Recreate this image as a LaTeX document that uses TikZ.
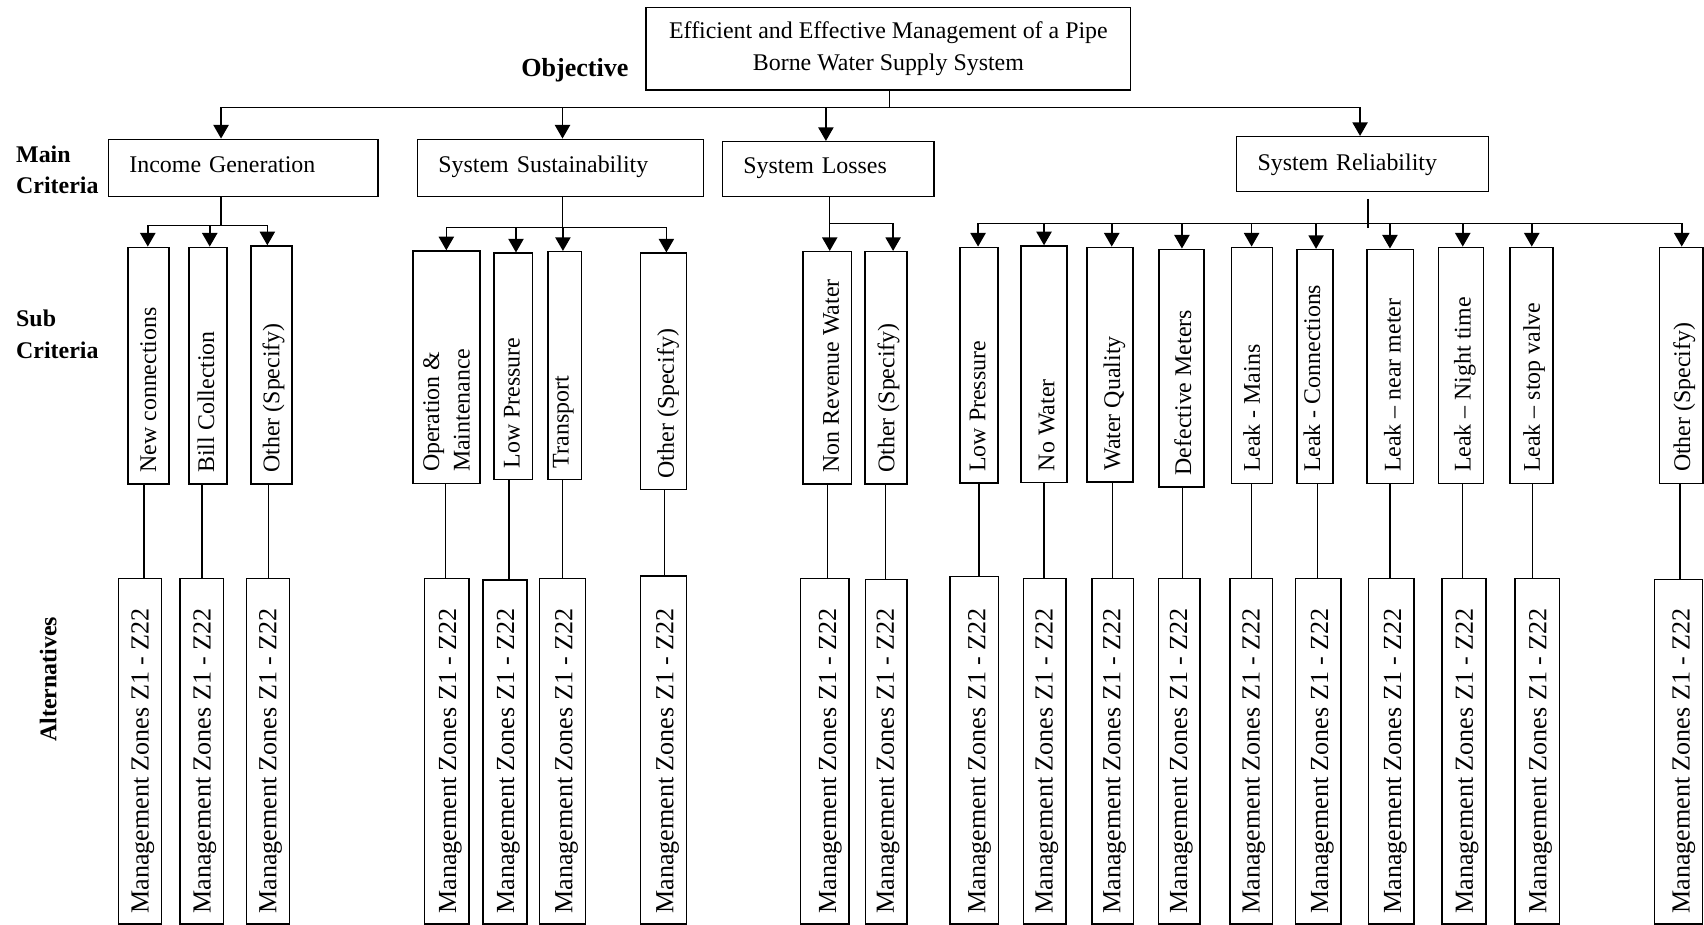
\documentclass[tikz,border=0pt]{standalone}
\usepackage{fontspec}
\setmainfont{Liberation Serif}
\usetikzlibrary{arrows.meta}
\newcommand\fsA{\fontsize{22}{28.6}\selectfont}
\newcommand\fsB{\fontsize{24}{30}\selectfont}
\newcommand\fsOM{\fontsize{22}{28}\selectfont}
\tikzset{
  box/.style={draw, line width=1.4pt, inner sep=0pt, outer sep=0.7pt},
  conn/.style={line width=1.4pt},
  hline/.style={line width=1.4pt, line cap=rect},
  arr/.style={line width=1.4pt, -{Triangle[width=14pt,length=12.5pt]}},
  crit/.style={box, font=\fsA, inner xsep=19.3pt, inner ysep=0pt, align=left, text height=15pt},
  stext/.style={rotate=90, anchor=base west, inner sep=0pt, font=\fsA},
  atext/.style={rotate=90, anchor=base west, inner sep=0pt, font=\fsB},
  lbl/.style={anchor=base west, inner sep=0pt, font=\fsA\bfseries}
}
\begin{document}
\begin{tikzpicture}[x=1pt,y=-1pt]
\useasboundingbox (0,0) rectangle (1568,851);

% objective
\node[box, minimum width=445.9pt, minimum height=76.1pt, align=center, font=\fsA] (obj) at (817.5,44.75)
  {Efficient and Effective Management of a Pipe\\Borne Water Supply System};
\node[anchor=base, inner sep=0pt, font=\fsB\bfseries] (objlbl) at (529,70) {Objective};

% level labels
\node[lbl] (lmain) at (14.7,149.5) {Main};
\node[lbl] (lmainc) at (14.7,178.5) {Criteria};
\node[lbl] (lsub) at (14.7,300.5) {Sub};
\node[lbl] (lsubc) at (14.7,329.5) {Criteria};
\node[rotate=90, inner sep=0pt, font=\fsA\bfseries] (lalt) at (44.4,625) {Alternatives};

% main criteria
\node[crit, text width=209.2pt, minimum height=52.8pt, text depth=7.2pt] (ig) at (223.7,154.6) {Income Generation};
\node[crit, text width=224.8pt, minimum height=52.8pt, text depth=7.2pt] (ss) at (515.8,154.6) {System Sustainability};
\node[crit, text width=156.1pt, minimum height=50.6pt, text depth=6.2pt] (sl) at (762.15,155.7) {System Losses};
\node[crit, text width=193.0pt, minimum height=50.6pt, text depth=3.2pt] (sr) at (1253.8,151.1) {System Reliability};

% top connectors
\coordinate (topc) at (818.4,99);
\coordinate (tig) at (203.4,99);
\coordinate (tss) at (517.6,99);
\coordinate (tsl) at (760,99);
\coordinate (tsr) at (1251.5,99);
\draw[conn] (obj.south -| topc) -- (topc);
\draw[hline] (tig) -- (tsr);
\draw[arr] (tig) -- (tig |- ig.north);
\draw[arr] (tss) -- (tss |- ss.north);
\draw[arr] (tsl) -- (tsl |- sl.north);
\draw[arr] (tsr) -- (tsr |- sr.north);

% sub criteria and alternatives
\foreach \n/\sl/\sr/\st/\sb/\hy/\ax/\lx/\al/\ar/\at/\t in {
  nc/117.8/155.4/227.6/445.4/207.4/136/132.5/109/148.7/532.2/New connections,
  bc/174.1/208.9/227.6/445.4/207.4/193/186/165.6/205.8/532.2/Bill Collection,
  igo/231.2/268.8/226.4/445.4/207.4/246/247/226.9/266.2/532.2/Other (Specify),
  om/380/441.7/231/444.8/209.2/410.7/410/390.8/431.8/532.2/{},
  slp/454.8/490/233/441.4/209.2/474.8/468.5/444.5/485/533.7/Low Pressure,
  tr/504.1/535/231.6/441.4/209.2/518/517.8/496.5/538.7/532.2/Transport,
  sso/589.3/631.9/233/450.6/209.2/613.2/611.5/589.4/631.7/530/Other (Specify),
  nrw/739/783.7/231.6/445.4/205.5/763.5/761.3/736.8/781.3/532.2/Non Revenue Water,
  slo/796/834.8/231.6/445.4/205.5/821.8/814.7/796.3/834.6/533.1/Other (Specify),
  rlp/883.5/918.5/227.6/444.6/205.5/900/900.9/874.2/918.7/530.7/Low Pressure,
  nw/939.6/981.9/226.4/444/205.5/960.7/960.7/941.7/980.7/532.2/No Water,
  wq/1000.3/1042.6/227.6/443.5/205.5/1023/1023.6/1004.6/1042.9/532.2/Water Quality,
  dm/1066.3/1107.9/229.4/447.9/205.5/1087.6/1088/1065.9/1104.3/532.2/Defective Meters,
  lm/1133.4/1171/227.6/444.8/205.5/1151.7/1151.8/1131.9/1171.1/532.2/Leak - Mains,
  lc/1193.7/1226.5/229.7/444.8/205.5/1211/1212.5/1192.3/1234.1/532.2/Leak - Connections,
  lnm/1257.7/1300.6/229.4/444.8/205.5/1279/1279.2/1259.2/1301.2/532.2/Leak – near meter,
  lnt/1323.6/1365/227.6/444.8/205.5/1346/1345.7/1326.7/1367.2/532.2/Leak – Night time,
  lsv/1389.6/1428.8/227.6/444.8/205.5/1409.5/1410/1394.1/1434.9/532.2/Leak – stop valve,
  rso/1527/1567/227.6/444.8/205.5/1547.5/1546/1522.4/1566.8/533.1/Other (Specify)} {
  \pgfmathsetmacro\cx{(\sl+\sr)/2}
  \pgfmathsetmacro\cy{(\st+\sb)/2}
  \pgfmathsetmacro\w{\sr-\sl}
  \pgfmathsetmacro\h{\sb-\st}
  \pgfmathsetmacro\acx{(\al+\ar)/2}
  \pgfmathsetmacro\acy{(\at+850.3)/2}
  \pgfmathsetmacro\aw{\ar-\al}
  \pgfmathsetmacro\ah{850.3-\at}
  \node[box, minimum width=\w pt, minimum height=\h pt] (\n) at (\cx,\cy) {};
  \node[stext] (\n-t) at ([xshift=-12.5pt, yshift=11pt]\n.south east) {\t};
  \node[box, minimum width=\aw pt, minimum height=\ah pt] (alt-\n) at (\acx,\acy) {};
  \node[atext] (alt-\n-t) at ([xshift=-12.7pt, yshift=10pt]alt-\n.south east) {Management Zones Z1 - Z22};
  \coordinate (a-\n) at (\ax,\hy);
  \coordinate (l-\n) at (\lx,0);
  \draw[arr] (a-\n) -- (a-\n |- \n.north);
  \draw[conn] (l-\n |- \n.south) -- (l-\n |- alt-\n.north);
}

\node[rotate=90, anchor=south west, inner sep=0pt, align=left, font=\fsOM] (om-t) at ([xshift=-9.9pt, yshift=11pt]om.south east) {Operation \&\\Maintenance};

% group hubs
\coordinate (hig) at (203.4,207.4);
\draw[conn] (ig.south -| hig) -- (hig);
\draw[hline] (a-nc) -- (a-igo);
\coordinate (hss) at (517.6,209.2);
\draw[conn] (ss.south -| hss) -- (hss);
\draw[hline] (a-om) -- (a-sso);
\coordinate (hsl) at (763.4,205.5);
\draw[conn] (sl.south -| hsl) -- (hsl);
\draw[hline] (a-nrw) -- (a-slo);
\coordinate (hsrA) at (1258.6,183);
\coordinate (hsrB) at (1258.6,210);
\draw[conn] (hsrA) -- (hsrB);
\draw[hline] (a-rlp) -- (a-rso);
\end{tikzpicture}
\end{document}
